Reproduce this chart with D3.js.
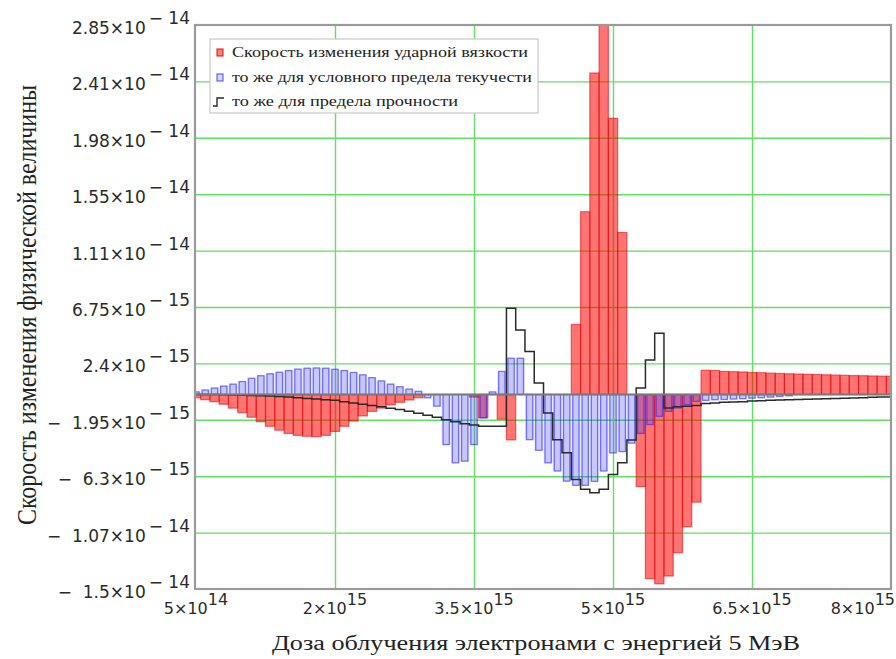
<!DOCTYPE html>
<html>
<head>
<meta charset="utf-8">
<script src="https://cdn.jsdelivr.net/npm/d3@7"></script>
<style>
  html, body { margin: 0; padding: 0; background: #fff; }
  svg { display: block; }
</style>
</head>
<body>
<svg id="chart" width="896" height="659"></svg>
<script>
// Dose grid, units of 1e14 (5·10^14 … 8·10^15)
const dose = [5, 6, 7, 8, 9, 10, 11, 12, 13, 14, 15, 16, 17, 18, 19, 20, 21, 22, 23, 24,
  25, 26, 27, 28, 29, 30, 31, 32, 33, 34, 35, 36, 37, 38, 39, 40, 41, 42, 43, 44,
  45, 46, 47, 48, 49, 50, 51, 52, 53, 54, 55, 56, 57, 58, 59, 60, 61, 62, 63, 64,
  65, 66, 67, 68, 69, 70, 71, 72, 73, 74, 75, 76, 77, 78, 79, 80];

// Rates of change, units of 1e-15
const impactRate = [-0.25, -0.4, -0.55, -0.75, -1.05, -1.4, -1.75, -2.1, -2.45, -2.75,
  -3.0, -3.15, -3.22, -3.25, -3.15, -2.85, -2.45, -2.05, -1.65, -1.3,
  -1.05, -0.8, -0.6, -0.42, -0.25, 0, 0, 0, 0, 0,
  -0.2, -1.8, 0, -1.9, -3.5, 0, 0, 0, 0, 0,
  0, 5.4, 14.1, 24.8, 28.5, 21.3, 12.5, 0, -7.1, -14.2,
  -14.6, -14.0, -12.2, -10.2, -8.3, 1.87, 1.85, 1.78, 1.76, 1.74,
  1.7, 1.68, 1.65, 1.62, 1.6, 1.58, 1.56, 1.54, 1.52, 1.5,
  1.48, 1.46, 1.45, 1.43, 1.42, 1.4];

const yieldRate = [0.2, 0.35, 0.5, 0.65, 0.8, 1.0, 1.25, 1.45, 1.6, 1.72,
  1.85, 1.96, 2.03, 2.05, 2.03, 1.95, 1.85, 1.7, 1.52, 1.3,
  1.05, 0.8, 0.6, 0.42, 0.25, -0.25, -0.9, -3.86, -5.27, -5.14,
  -3.86, -1.8, 0.2, 1.78, 2.8, 2.8, -3.48, -4.3, -5.27, -5.9,
  -6.68, -7.0, -7.0, -6.7, -5.9, -4.5, -4.4, -3.75, -3.0, -2.32,
  -1.68, -1.3, -1.04, -0.78, -0.53, -0.45, -0.4, -0.38, -0.35, -0.32,
  -0.28, -0.25, -0.2, -0.15, -0.1, 0, 0, 0, 0, 0,
  0, 0, 0, 0, 0, 0];

const strengthRate = [0, 0, 0, -0.02, -0.03, -0.05, -0.07, -0.1, -0.12, -0.15,
  -0.2, -0.25, -0.3, -0.35, -0.4, -0.45, -0.55, -0.65, -0.75, -0.85,
  -0.95, -1.05, -1.15, -1.3, -1.45, -1.6, -1.75, -1.95, -2.1, -2.25,
  -2.35, -2.45, -2.45, -2.45, 6.65, 4.98, 3.31, 0.88, -1.42, -3.48,
  -4.5, -6.55, -7.3, -7.57, -7.3, -6.16, -5.27, -3.5, 0.5, 2.67,
  4.72, -1.04, -0.95, -0.9, -0.85, -0.7, -0.65, -0.6, -0.58, -0.55,
  -0.5, -0.48, -0.45, -0.42, -0.4, -0.38, -0.36, -0.34, -0.32, -0.3,
  -0.28, -0.26, -0.24, -0.22, -0.2, -0.2];

const seriesNames = [
  "Скорость изменения ударной вязкости",
  "то же для условного предела текучести",
  "то же для предела прочности"
];

const xTickValues = [5, 20, 35, 50, 65, 80];
const xTickMantissa = ["5", "2", "3.5", "5", "6.5", "8"];
const xTickExponent = ["14", "15", "15", "15", "15", "15"];

const yTickValues = [28.5, 24.15, 19.8, 15.45, 11.1, 6.75, 2.4, -1.95, -6.3, -10.65, -15];
const yTickMantissa = ["2.85", "2.41", "1.98", "1.55", "1.11", "6.75", "2.4",
  "\u2212\u00a0 1.95", "\u2212\u00a0 6.3", "\u2212\u00a0 1.07", "\u2212\u00a0 1.5"];
const yTickExponent = ["\u2212 14", "\u2212 14", "\u2212 14", "\u2212 14", "\u2212 14", "\u2212 15",
  "\u2212 15", "\u2212 15", "\u2212 15", "\u2212 14", "\u2212 14"];

const xTitle = "Доза облучения электронами с энергией 5 МэВ";
const yTitle = "Скорость изменения физической величины";

// ---- layout ----
const svg = d3.select("#chart");
const plot = { left: 196, right: 891, top: 25, bottom: 589 };
const x = d3.scaleLinear().domain([5, 80]).range([plot.left, plot.right]);
const y = d3.scaleLinear().domain([-15, 28.5]).range([plot.bottom, plot.top]);
const step = x(dose[1]) - x(dose[0]);
const sansFont = "'DejaVu Sans', Verdana, sans-serif";
const serifFont = "'Liberation Serif', 'Times New Roman', serif";

svg.append("rect").attr("width", 896).attr("height", 659).attr("fill", "#fff");

svg.append("defs").append("clipPath").attr("id", "plotClip")
  .append("rect")
  .attr("x", plot.left).attr("y", plot.top)
  .attr("width", plot.right - plot.left).attr("height", plot.bottom - plot.top);

// ---- grid ----
const gridColor = "#62e062";
svg.append("g")
  .attr("transform", `translate(${plot.left},0)`)
  .call(d3.axisLeft(y).tickValues(yTickValues.slice(1, -1))
    .tickSize(-(plot.right - plot.left)).tickFormat(""))
  .call(g => g.select(".domain").remove())
  .call(g => g.selectAll("line").attr("stroke", gridColor).attr("stroke-width", 1.4));

svg.append("g")
  .attr("transform", `translate(0,${plot.bottom})`)
  .call(d3.axisBottom(x).tickValues(xTickValues.slice(1, -1))
    .tickSize(-(plot.bottom - plot.top)).tickFormat(""))
  .call(g => g.select(".domain").remove())
  .call(g => g.selectAll("line").attr("stroke", gridColor).attr("stroke-width", 1.4));

// ---- series ----
const area = svg.append("g").attr("clip-path", "url(#plotClip)");

const rows = dose.map((d, i) => ({
  d, impact: impactRate[i], yld: yieldRate[i], strength: strengthRate[i]
}));

function barY(v) { return y(Math.max(0, v)); }
function barH(v) { return Math.abs(y(v) - y(0)); }

// impact toughness rate: solid translucent red bars
area.append("g").selectAll("rect")
  .data(rows.filter(r => r.impact !== 0))
  .join("rect")
  .attr("x", r => x(r.d) - step / 2)
  .attr("width", step)
  .attr("y", r => barY(r.impact))
  .attr("height", r => barH(r.impact))
  .attr("fill", "rgba(255,0,0,0.55)")
  .attr("stroke", "rgba(230,0,0,0.55)")
  .attr("stroke-width", 1.2);

// yield strength rate: pale blue band with outlined inner bar
const blue = area.append("g");
blue.append("g").selectAll("rect")
  .data(rows.filter(r => r.yld !== 0))
  .join("rect")
  .attr("x", r => x(r.d) - step / 2)
  .attr("width", step)
  .attr("y", r => barY(r.yld))
  .attr("height", r => barH(r.yld))
  .attr("fill", "rgba(60,60,255,0.12)");
blue.append("g").selectAll("rect")
  .data(rows.filter(r => r.yld !== 0))
  .join("rect")
  .attr("x", r => x(r.d) - step * 0.34)
  .attr("width", step * 0.68)
  .attr("y", r => barY(r.yld))
  .attr("height", r => barH(r.yld))
  .attr("fill", "rgba(60,60,255,0.18)")
  .attr("stroke", "rgba(40,40,255,0.6)")
  .attr("stroke-width", 1.3);

// zero axis
svg.append("line")
  .attr("x1", plot.left).attr("x2", plot.right)
  .attr("y1", y(0)).attr("y2", y(0))
  .attr("stroke", "#7a7a7a").attr("stroke-width", 2);

// ultimate strength rate: step trace
area.append("path")
  .datum(rows)
  .attr("fill", "none")
  .attr("stroke", "#2a2a2a")
  .attr("stroke-width", 1.5)
  .attr("d", d3.line().curve(d3.curveStep).x(r => x(r.d)).y(r => y(r.strength)));

// ---- frame ----
svg.append("rect")
  .attr("x", plot.left - 1).attr("y", plot.top)
  .attr("width", plot.right - plot.left + 1).attr("height", plot.bottom - plot.top)
  .attr("fill", "none").attr("stroke", "#9a9a9a").attr("stroke-width", 2.2);

// ---- tick labels ----
svg.append("g").attr("font-family", sansFont).attr("font-size", 17).attr("fill", "#2a2a2a")
  .selectAll("text").data(yTickValues).join("text")
  .attr("x", 190).attr("y", v => y(v) + 9)
  .attr("text-anchor", "end")
  .each(function (v, i) {
    const t = d3.select(this);
    t.append("tspan").text(yTickMantissa[i] + "×10");
    t.append("tspan").attr("dx", 3).attr("dy", -10).text(yTickExponent[i]);
  });

// the outermost x label is kept inside the page edge
const lastX = xTickValues.length - 1;
svg.append("g").attr("font-family", sansFont).attr("font-size", 16).attr("fill", "#2a2a2a")
  .selectAll("text").data(xTickValues).join("text")
  .attr("x", (v, i) => i === lastX ? 895 : x(v)).attr("y", 614)
  .attr("text-anchor", (v, i) => i === lastX ? "end" : "middle")
  .each(function (v, i) {
    const t = d3.select(this);
    t.append("tspan").text(xTickMantissa[i] + "×10");
    t.append("tspan").attr("dy", -9).text(xTickExponent[i]);
  });

// ---- axis titles ----
svg.append("text")
  .attr("x", 536).attr("y", 650)
  .attr("text-anchor", "middle")
  .attr("font-family", serifFont).attr("font-size", 20).attr("fill", "#222")
  .attr("textLength", 528).attr("lengthAdjust", "spacingAndGlyphs")
  .text(xTitle);

svg.append("text")
  .attr("transform", "translate(36,305) scale(1.25,1) rotate(-90)")
  .attr("text-anchor", "middle")
  .attr("font-family", serifFont).attr("font-size", 21).attr("fill", "#222")
  .attr("textLength", 440).attr("lengthAdjust", "spacingAndGlyphs")
  .text(yTitle);

// ---- legend ----
const legend = svg.append("g");
legend.append("rect")
  .attr("x", 210).attr("y", 39).attr("width", 328).attr("height", 74)
  .attr("fill", "#fff").attr("stroke", "#c8c8c8").attr("stroke-width", 1.2);

const legendRows = [
  { base: 57, len: 296 },
  { base: 82, len: 300 },
  { base: 106, len: 226 }
];
legend.selectAll("text.lg").data(seriesNames).join("text")
  .attr("class", "lg")
  .attr("x", 232).attr("y", (s, i) => legendRows[i].base)
  .attr("font-family", serifFont).attr("font-size", 15).attr("fill", "#222")
  .attr("textLength", (s, i) => legendRows[i].len).attr("lengthAdjust", "spacingAndGlyphs")
  .text(s => s);

// legend glyphs
legend.append("rect").attr("x", 217).attr("y", 49).attr("width", 6).attr("height", 7)
  .attr("fill", "rgba(255,0,0,0.5)").attr("stroke", "rgba(230,0,0,0.8)").attr("stroke-width", 1.2);
legend.append("rect").attr("x", 217).attr("y", 74).attr("width", 6).attr("height", 7)
  .attr("fill", "rgba(60,60,255,0.2)").attr("stroke", "rgba(40,40,255,0.7)").attr("stroke-width", 1.2);
legend.append("path").attr("d", "M213,106 H217 V98 H224")
  .attr("fill", "none").attr("stroke", "#2a2a2a").attr("stroke-width", 1.4);
</script>
</body>
</html>
